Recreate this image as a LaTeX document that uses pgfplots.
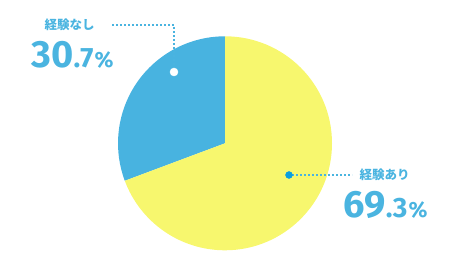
\documentclass[border=0pt]{standalone}
\usepackage{fontspec}
\usepackage{pgfplots}
\usepackage{pgfplotstable}
\pgfplotsset{compat=1.18}
\newfontfamily\jpfont{Noto Sans CJK JP}
\newfontfamily\numfont{Fira Sans}
\definecolor{pieblue}{HTML}{48B3E0}
\definecolor{pieyellow}{HTML}{F7F76E}
\definecolor{txtblue}{HTML}{4AB4E0}
\definecolor{dotblue}{HTML}{0A9FDE}

\pgfplotstableread{
slice value
yes 69.3
no 30.7
}\piedata
\pgfplotstablegetelem{0}{value}\of\piedata \let\vyes\pgfplotsretval
\pgfplotstablegetelem{1}{value}\of\piedata \let\vno\pgfplotsretval
\pgfmathsetmacro{\angno}{3.6*\vno}
\pgfmathsetmacro{\angyes}{-3.6*\vyes}

\begin{document}
\begin{tikzpicture}
\begin{axis}[scale only axis, width=451bp, height=269bp,
  xmin=0, xmax=451, ymin=0, ymax=269, hide axis, clip=false]
\path (axis cs:0,0) rectangle (axis cs:451,269);
% pie slices (centre 225,125.7; radius 107)
\fill[pieblue] (axis cs:225,125.7) -- (axis cs:225,232.7) arc[start angle=90, delta angle=\angno, radius=107bp] -- cycle;
\fill[pieyellow] (axis cs:225,125.7) -- (axis cs:225,232.7) arc[start angle=90, delta angle=\angyes, radius=107bp] -- cycle;
% leader lines
\addplot[txtblue, line width=2bp, dash pattern=on 2bp off 2bp, no marks] coordinates {(112,244) (174,244) (174,198)};
\addplot[only marks, mark=*, mark size=4bp, mark options={fill=white, draw=white}] coordinates {(174,197)};
\addplot[txtblue, line width=2bp, dash pattern=on 2bp off 2bp, no marks] coordinates {(292,94) (352,94)};
\addplot[only marks, mark=*, mark size=3.5bp, mark options={fill=dotblue, draw=dotblue}] coordinates {(289,94)};
% labels
\node[anchor=west, inner sep=0, text=txtblue, font=\fontsize{12.5bp}{14bp}\selectfont\jpfont\bfseries] at (axis cs:44.5,244) {経験なし};
\node[anchor=base west, inner sep=0, text=txtblue, font=\numfont\bfseries] at (axis cs:31.5,201)
  {\fontsize{38bp}{38bp}\selectfont 30\fontsize{28bp}{28bp}\selectfont.7\kern1bp\fontsize{22bp}{22bp}\selectfont\%};
\node[anchor=west, inner sep=0, text=txtblue, font=\fontsize{12.5bp}{14bp}\selectfont\jpfont\bfseries] at (axis cs:359.5,94) {経験あり};
\node[anchor=base west, inner sep=0, text=txtblue, font=\numfont\bfseries] at (axis cs:343.5,51)
  {\fontsize{38bp}{38bp}\selectfont 69\fontsize{28bp}{28bp}\selectfont.3\kern1bp\fontsize{22bp}{22bp}\selectfont\%};
\end{axis}
\end{tikzpicture}
\end{document}
